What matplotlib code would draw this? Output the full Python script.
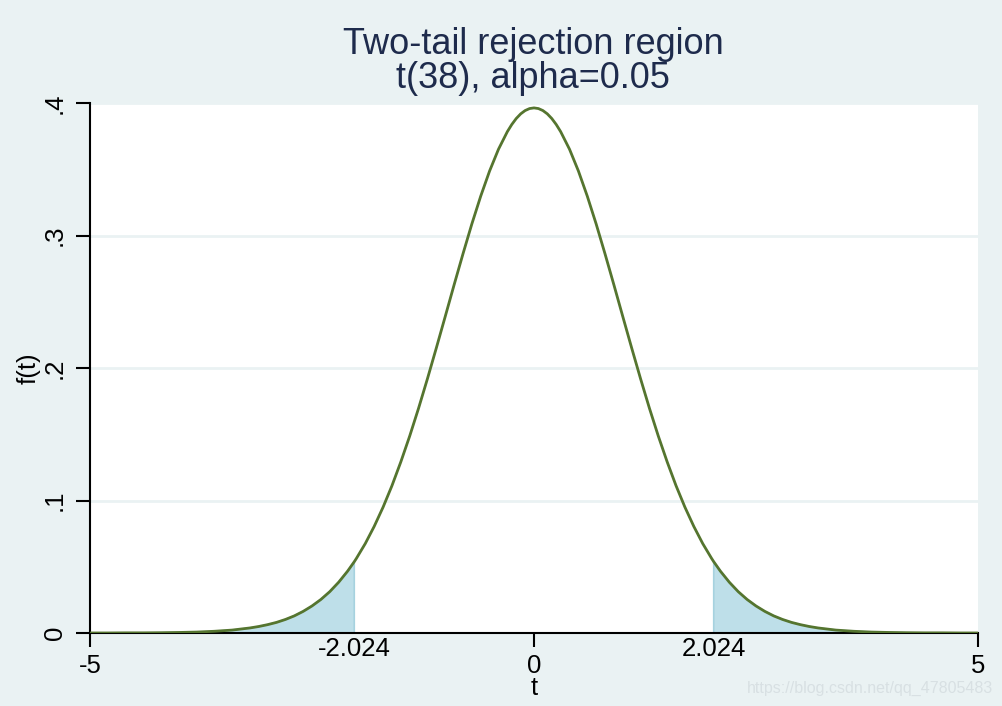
import matplotlib
matplotlib.use("Agg")
import matplotlib.pyplot as plt

plt.rcParams["font.family"] = ["Liberation Sans", "DejaVu Sans"]

# t(38) density
t_vals = [-5.0, -4.8, -4.6, -4.4, -4.2, -4.0, -3.8, -3.6, -3.4, -3.2, -3.1, -3.0,
          -2.9, -2.8, -2.7, -2.6, -2.5, -2.4, -2.3, -2.2, -2.1, -2.024, -2.0,
          -1.9, -1.8, -1.7, -1.6, -1.5, -1.4, -1.3, -1.2, -1.1, -1.0,
          -0.9, -0.8, -0.7, -0.6, -0.5, -0.4, -0.3, -0.25, -0.2, -0.15, -0.1, -0.05,
          0.0,
          0.05, 0.1, 0.15, 0.2, 0.25, 0.3, 0.4, 0.5, 0.6, 0.7, 0.8, 0.9,
          1.0, 1.1, 1.2, 1.3, 1.4, 1.5, 1.6, 1.7, 1.8, 1.9,
          2.0, 2.024, 2.1, 2.2, 2.3, 2.4, 2.5, 2.6, 2.7, 2.8, 2.9,
          3.0, 3.1, 3.2, 3.4, 3.6, 3.8, 4.0, 4.2, 4.4, 4.6, 4.8, 5.0]
f_vals = [0.0000, 0.0000, 0.0001, 0.0001, 0.0002, 0.0004, 0.0007, 0.0013, 0.0022, 0.0038, 0.0049, 0.0063,
          0.0080, 0.0102, 0.0129, 0.0163, 0.0204, 0.0253, 0.0312, 0.0383, 0.0466, 0.0538, 0.0563,
          0.0675, 0.0804, 0.0949, 0.1111, 0.1291, 0.1486, 0.1696, 0.1919, 0.2151, 0.2388,
          0.2627, 0.2861, 0.3087, 0.3297, 0.3487, 0.3651, 0.3784, 0.3838, 0.3883, 0.3918, 0.3943, 0.3958,
          0.3963,
          0.3958, 0.3943, 0.3918, 0.3883, 0.3838, 0.3784, 0.3651, 0.3487, 0.3297, 0.3087, 0.2861, 0.2627,
          0.2388, 0.2151, 0.1919, 0.1696, 0.1486, 0.1291, 0.1111, 0.0949, 0.0804, 0.0675,
          0.0563, 0.0538, 0.0466, 0.0383, 0.0312, 0.0253, 0.0204, 0.0163, 0.0129, 0.0102, 0.0080,
          0.0063, 0.0049, 0.0038, 0.0022, 0.0013, 0.0007, 0.0004, 0.0002, 0.0001, 0.0001, 0.0000, 0.0000]
crit = 2.024

major_x = [-5, 0, 5]
crit_x = [-2.024, 2.024]
crit_lbl = ["-2.024", "2.024"]
y_ticks = [0, 0.1, 0.2, 0.3, 0.4]
y_lbls = ["0", ".1", ".2", ".3", ".4"]

bg = "#EAF2F3"
fig = plt.figure(figsize=(10.03, 7.06), dpi=100, facecolor=bg)
ax = fig.add_axes([90 / 1003, 73 / 706, 888 / 1003, 530 / 706])
ax.set_facecolor("white")

for y in y_ticks[1:]:
    ax.axhline(y, color=bg, lw=2, zorder=0)

ax.fill_between(t_vals, 0, f_vals,
                where=[abs(t) >= crit - 1e-9 for t in t_vals],
                facecolor="#BEDFE9", edgecolor="#A6D2DF", lw=1.2, zorder=1)
ax.plot(t_vals, f_vals, color="#55752F", lw=2, zorder=3)

ax.set_xlim(-5, 5)
ax.set_ylim(0, 0.4)
for s in ["top", "right"]:
    ax.spines[s].set_visible(False)
for s in ["left", "bottom"]:
    ax.spines[s].set_linewidth(1.5)

ax.set_xticks(major_x)
ax.set_xticklabels([str(v) for v in major_x])
ax.tick_params(axis="x", length=10, width=1.5, pad=5, labelsize=18.5)
ax.set_xticks(crit_x, minor=True)
ax.set_xticklabels(crit_lbl, minor=True)
ax.tick_params(axis="x", which="minor", length=0, pad=3, labelsize=18.5)

ax.set_yticks(y_ticks)
ax.set_yticklabels(y_lbls, rotation=90, va="center")
ax.tick_params(axis="y", length=10, width=1.5, pad=6.5, labelsize=18.5)

ax.set_xlabel("t", fontsize=18.5, va="center")
ax.xaxis.set_label_coords(0.5, (633 - 688) / 530)
ax.set_ylabel("f(t)", fontsize=18.5, va="center")
ax.yaxis.set_label_coords((29 - 90) / 888, 0.5)

fig.text(533 / 1003, 1 - 45 / 706, "Two-tail rejection region", ha="center", va="center",
         fontsize=26, color="#1E2B4C")
fig.text(533 / 1003, 1 - 78 / 706, "t(38), alpha=0.05", ha="center", va="center",
         fontsize=26, color="#1E2B4C")

fig.text(993 / 1003, 1 - 688 / 706, "https://blog.csdn.net/qq_47805483", ha="right", va="center",
         fontsize=11.5, color="#D8E0E3")

fig.savefig("out.png", dpi=100, facecolor=bg)
